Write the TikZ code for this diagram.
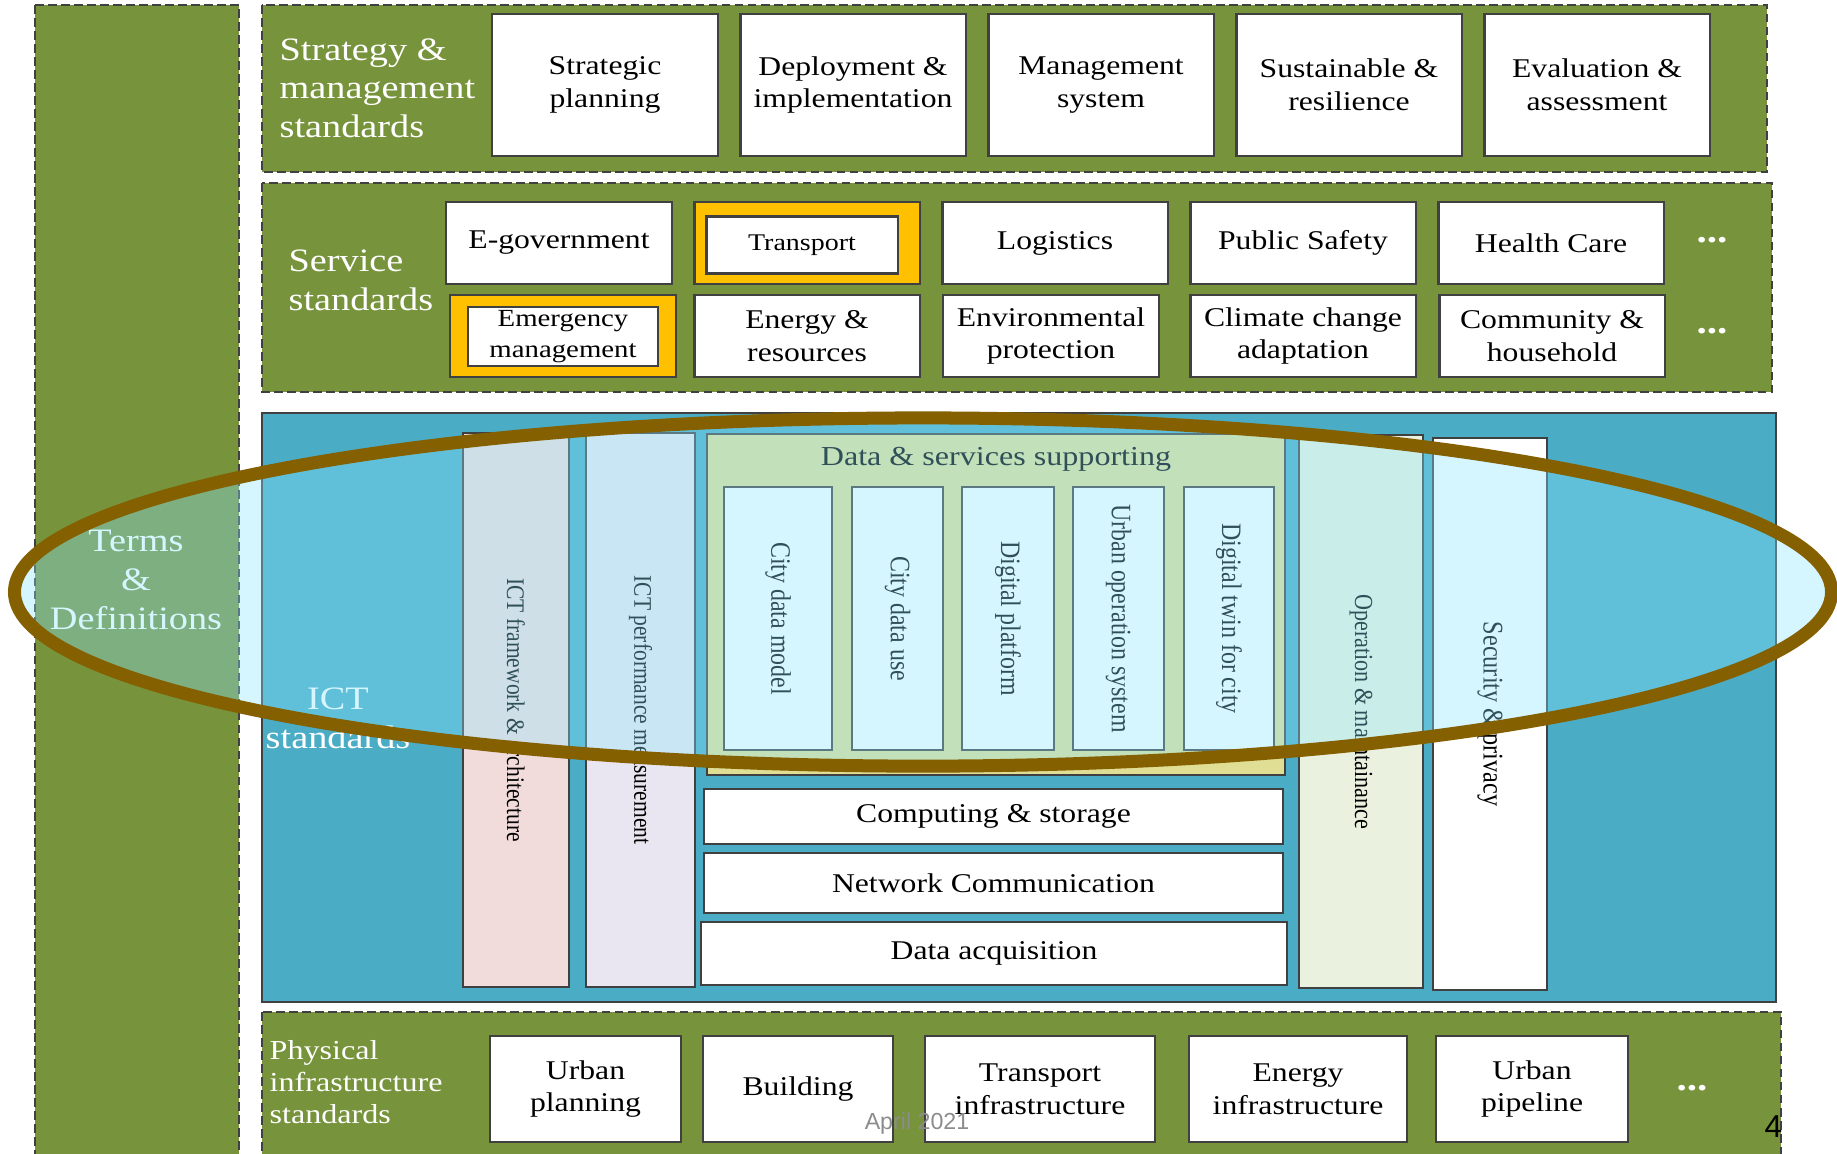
\documentclass[tikz,border=0pt]{standalone}
\usepackage{fontspec}
\setmainfont{Liberation Serif}[FakeStretch=1.17]
\newfontfamily\rotfont{Liberation Serif}[FakeStretch=0.85]
\setsansfont{Liberation Sans}
\usetikzlibrary{positioning}
\definecolor{panelgreen}{RGB}{119,147,60}
\definecolor{ictblue}{RGB}{75,172,198}
\definecolor{hiorange}{RGB}{255,192,0}
\definecolor{fwpink}{RGB}{242,220,219}
\definecolor{pmlilac}{RGB}{234,230,241}
\definecolor{dskhaki}{RGB}{224,222,148}
\definecolor{omgreen}{RGB}{234,241,222}
\definecolor{ringbrown}{RGB}{133,96,0}
\definecolor{ringfill}{RGB}{140,230,255}
\definecolor{edgegrey}{RGB}{64,64,64}
\newcommand{\rotsize}[1]{\fontsize{#1}{#1}\rotfont}

\begin{document}
\begin{tikzpicture}[
    x=0.01cm,
    y=-0.01cm,
    panel/.style={draw=edgegrey, dash pattern=on 2.5pt off 1.2pt, line width=0.5pt, fill=panelgreen},
    box/.style={draw=edgegrey, line width=0.6pt, fill=white, inner sep=0pt, outer sep=0pt,
        align=center, font=\fontsize{7.7}{9.3}\selectfont},
    stratbox/.style={box, minimum width=2.25cm, minimum height=1.42cm},
    servbox/.style={box, minimum width=2.25cm, minimum height=0.82cm},
    physbox/.style={box, minimum height=1.06cm},
    hibox/.style={servbox, fill=hiorange},
    column/.style={draw=edgegrey, line width=0.6pt, fill=white, inner sep=0pt, outer sep=0pt,
        rotate=-90, align=center},
    subcol/.style={column, minimum width=2.63cm, font=\rotsize{8}},
    lbl/.style={text=white, align=left, inner sep=0pt, font=\fontsize{9.3}{11}\selectfont},
    more/.style={text=white, inner sep=0pt, font=\fontsize{10}{10}\bfseries\selectfont}
]
    \useasboundingbox (0,0) rectangle (1837,1153);
    \clip (0,0) rectangle (1837,1153);
    \fill[white] (0,0) rectangle (1837,1153);

    % panels
    \draw[panel] (35,5) rectangle (239,1165);
    \draw[panel] (262,5) rectangle (1767,172);
    \draw[panel] (262,183) rectangle (1772,392);
    \draw[draw=edgegrey, line width=0.5pt, fill=ictblue] (262,413) rectangle (1776,1002);
    \draw[panel] (262,1012) rectangle (1781,1170);

    \node[lbl, align=center] (termslbl) at (136,580) {Terms\\\&\\Definitions};

    % strategy & management
    \node[lbl, anchor=west] (stratlbl) at (279,88) {Strategy \&\\management\\standards};
    \node[stratbox] (sp) at (605,85) {Strategic\\planning};
    \node[stratbox] (di) at (853,85) {Deployment \&\\implementation};
    \node[stratbox] (ms) at (1101,85) {Management\\system};
    \node[stratbox] (sr) at (1349,85) {Sustainable \&\\resilience};
    \node[stratbox] (ea) at (1597,85) {Evaluation \&\\assessment};

    % service
    \node[lbl, anchor=west] (servlbl) at (288,280) {Service\\standards};
    \node[servbox] (egov) at (559,243) {E-government};
    \node[hibox] (trans) at (807,243) {};
    \node[box, minimum width=1.91cm, minimum height=0.57cm, font=\fontsize{6.8}{8}\selectfont] (transin) at (802,245) {Transport};
    \node[servbox] (logi) at (1055,243) {Logistics};
    \node[servbox] (psafe) at (1303,243) {Public Safety};
    \node[servbox] (hcare) at (1551,243) {Health Care};
    \node[more] (dotsa) at (1712,240) {...};

    \node[hibox] (emerg) at (563,336) {};
    \node[box, minimum width=1.90cm, minimum height=0.59cm, font=\fontsize{7}{9}\selectfont] (emergin) at (563,336.5) {Emergency\\management};
    \node[servbox] (energy) at (807,336) {Energy \&\\resources};
    \node[servbox, minimum width=2.16cm] (envp) at (1051,336) {Environmental\\protection};
    \node[servbox] (climate) at (1303,336) {Climate change\\adaptation};
    \node[servbox] (commu) at (1552,336) {Community \&\\household};
    \node[more] (dotsb) at (1712,331) {...};

    % ICT
    \node[lbl, align=center] (ictlbl) at (338,718) {ICT\\standards};
    \node[column, fill=fwpink, minimum width=5.54cm, minimum height=1.06cm, font=\rotsize{7.2}] (ictfw) at (516,710) {ICT framework \& architecture};
    \node[column, fill=pmlilac, minimum width=5.54cm, minimum height=1.09cm, font=\rotsize{7.2}] (ictpm) at (640.5,710) {ICT performance measurement};

    \node[box, fill=dskhaki, minimum width=5.78cm, minimum height=3.41cm] (dss) at (996,604.5) {};
    \node[inner sep=0pt, font=\fontsize{7.8}{9}\selectfont, below=0.13cm of dss.north] (dsstitle) {Data \& services supporting};
    \node[subcol, minimum height=1.08cm] (cdm) at (778,618.5) {City data model};
    \node[subcol, minimum height=0.91cm] (cdu) at (897.5,618.5) {City data use};
    \node[subcol, minimum height=0.92cm] (dplat) at (1008,618.5) {Digital platform};
    \node[subcol, minimum height=0.91cm] (uos) at (1118.5,618.5) {Urban operation system};
    \node[subcol, minimum height=0.90cm] (dtc) at (1229,618.5) {Digital twin for city};

    \node[box, minimum width=5.79cm, minimum height=0.55cm] (cstore) at (993.5,816.5) {Computing \& storage};
    \node[box, minimum width=5.79cm, minimum height=0.60cm] (netcom) at (993.5,883) {Network Communication};
    \node[box, minimum width=5.86cm, minimum height=0.63cm] (dacq) at (994,953.5) {Data acquisition};

    \node[column, fill=omgreen, minimum width=5.53cm, minimum height=1.24cm, font=\rotsize{7.4}] (opm) at (1361,711.5) {Operation \& maintainance};
    \node[column, minimum width=5.52cm, minimum height=1.14cm, font=\rotsize{8.1}] (secp) at (1490,714) {Security \& privacy};

    % physical infrastructure
    \node[lbl, anchor=west, font=\fontsize{7.8}{9}\selectfont] (physlbl) at (269,1082) {Physical\\infrastructure\\standards};
    \node[physbox, minimum width=1.91cm] (upl) at (585.5,1089) {Urban\\planning};
    \node[physbox, minimum width=1.90cm] (bldg) at (798,1089) {Building};
    \node[physbox, minimum width=2.30cm] (tinf) at (1040,1089) {Transport\\infrastructure};
    \node[physbox, minimum width=2.18cm] (einf) at (1298,1089) {Energy\\infrastructure};
    \node[physbox, minimum width=1.92cm] (upipe) at (1532,1089) {Urban\\pipeline};
    \node[more] (dotsc) at (1692,1088) {...};

    \node[inner sep=0pt, text=black!45, font=\sffamily\fontsize{6.6}{7}\selectfont] (date) at (917,1123) {April 2021};
    \node[inner sep=0pt, anchor=east, font=\sffamily\fontsize{9}{10}\selectfont] (pageno) at (1783,1127) {4};

    % highlight ring
    \fill[ringfill, fill opacity=0.35] (923,592) ellipse [x radius=9.08cm, y radius=1.74cm];
    \draw[ringbrown, line width=3.7pt] (923,592) ellipse [x radius=9.08cm, y radius=1.74cm];
\end{tikzpicture}
\end{document}
